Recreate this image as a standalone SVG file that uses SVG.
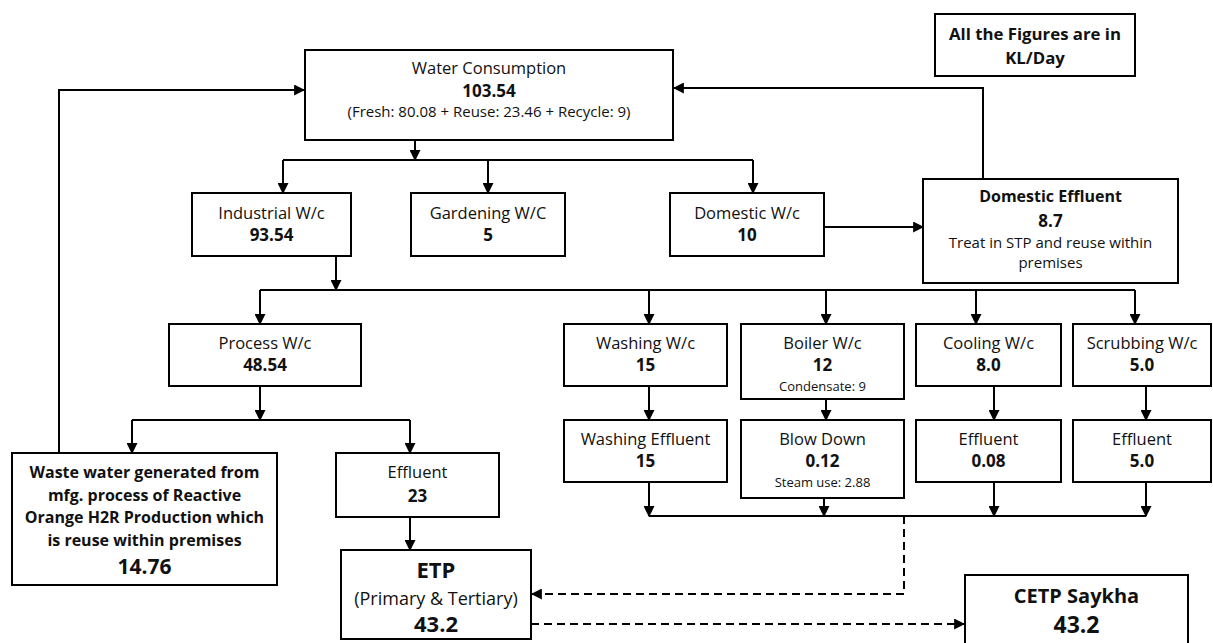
<svg xmlns="http://www.w3.org/2000/svg" width="1213" height="643" viewBox="0 0 1213 643">
<defs>
<style>
.box{fill:#fff;stroke:#000;stroke-width:2}
.t{font-family:"Open Sans","Liberation Sans",sans-serif;font-size:16.5px;fill:#111;text-anchor:middle}
.b{font-weight:bold}
.n{font-weight:bold;font-size:17px}
.m{font-size:15px}
.s{font-size:13px}
.w{font-weight:bold;font-size:16px}
.big{font-size:21px}
.ln{fill:none;stroke:#000;stroke-width:2}
.dash{fill:none;stroke:#000;stroke-width:2;stroke-dasharray:8,5}
</style>
<marker id="ah" viewBox="0 0 10 10" refX="9" refY="5" markerWidth="11" markerHeight="11" markerUnits="userSpaceOnUse" orient="auto">
<path d="M0,0 L10,5 L0,10 z" fill="#000"/>
</marker>
</defs>
<rect width="1213" height="643" fill="#fff"/>

<g id="connectors">
<path class="ln" d="M59,453 V90 H304" marker-end="url(#ah)"/>
<path class="ln" d="M983,179 V88 H674" marker-end="url(#ah)"/>
<path class="ln" d="M415,140 V160" marker-end="url(#ah)"/>
<path class="ln" d="M283,160 H753"/>
<path class="ln" d="M283,160 V193" marker-end="url(#ah)"/>
<path class="ln" d="M488,160 V193" marker-end="url(#ah)"/>
<path class="ln" d="M753,160 V193" marker-end="url(#ah)"/>
<path class="ln" d="M824,227 H923" marker-end="url(#ah)"/>
<path class="ln" d="M336,256 V290" marker-end="url(#ah)"/>
<path class="ln" d="M260,290 H1135"/>
<path class="ln" d="M260,290 V324" marker-end="url(#ah)"/>
<path class="ln" d="M649,290 V324" marker-end="url(#ah)"/>
<path class="ln" d="M826,290 V324" marker-end="url(#ah)"/>
<path class="ln" d="M976,290 V324" marker-end="url(#ah)"/>
<path class="ln" d="M1135,290 V324" marker-end="url(#ah)"/>
<path class="ln" d="M260,386 V420" marker-end="url(#ah)"/>
<path class="ln" d="M132,420 H410"/>
<path class="ln" d="M132,420 V453" marker-end="url(#ah)"/>
<path class="ln" d="M410,420 V453" marker-end="url(#ah)"/>
<path class="ln" d="M649,386 V420" marker-end="url(#ah)"/>
<path class="ln" d="M826,399 V420" marker-end="url(#ah)"/>
<path class="ln" d="M994,386 V420" marker-end="url(#ah)"/>
<path class="ln" d="M1146,386 V420" marker-end="url(#ah)"/>
<path class="ln" d="M649,482 V516" marker-end="url(#ah)"/>
<path class="ln" d="M824,498 V516" marker-end="url(#ah)"/>
<path class="ln" d="M994,482 V516" marker-end="url(#ah)"/>
<path class="ln" d="M1146,482 V516" marker-end="url(#ah)"/>
<path class="ln" d="M649,516 H1146"/>
<path class="ln" d="M410,517 V550" marker-end="url(#ah)"/>
<path class="dash" d="M904,516 V594 H532" marker-end="url(#ah)"/>
<path class="dash" d="M531,624 H964" marker-end="url(#ah)"/>
</g>

<g id="water-consumption">
<rect class="box" x="305" y="50" width="368" height="90"/>
<text class="t" x="489" y="74">Water Consumption</text>
<text class="t n" x="489" y="97">103.54</text>
<text class="t m" x="489" y="117">(Fresh: 80.08 + Reuse: 23.46 + Recycle: 9)</text>
</g>

<g id="units-note">
<rect class="box" x="935" y="14" width="200" height="62"/>
<text class="t w" x="1035" y="40" style="font-size:16.8px">All the Figures are in</text>
<text class="t w" x="1035" y="64" style="font-size:16.8px">KL/Day</text>
</g>

<g id="industrial">
<rect class="box" x="192" y="193" width="159" height="63"/>
<text class="t" x="271.5" y="219">Industrial W/c</text>
<text class="t n" x="271.5" y="241">93.54</text>
</g>

<g id="gardening">
<rect class="box" x="411" y="193" width="154" height="63"/>
<text class="t" x="488" y="219">Gardening W/C</text>
<text class="t n" x="488" y="241">5</text>
</g>

<g id="domestic">
<rect class="box" x="670" y="193" width="154" height="63"/>
<text class="t" x="747" y="219">Domestic W/c</text>
<text class="t n" x="747" y="241">10</text>
</g>

<g id="domestic-effluent">
<rect class="box" x="923" y="179" width="255" height="104"/>
<text class="t w" x="1050.5" y="202">Domestic Effluent</text>
<text class="t n" x="1050.5" y="227">8.7</text>
<text class="t m" x="1050.5" y="248">Treat in STP and reuse within</text>
<text class="t m" x="1050.5" y="268">premises</text>
</g>

<g id="process">
<rect class="box" x="169" y="324" width="192" height="62"/>
<text class="t" x="265" y="349">Process W/c</text>
<text class="t n" x="265" y="371">48.54</text>
</g>

<g id="washing">
<rect class="box" x="564" y="324" width="163" height="62"/>
<text class="t" x="645.5" y="349">Washing W/c</text>
<text class="t n" x="645.5" y="371">15</text>
</g>

<g id="boiler">
<rect class="box" x="741" y="324" width="163" height="75"/>
<text class="t" x="822.5" y="349">Boiler W/c</text>
<text class="t n" x="822.5" y="371">12</text>
<text class="t s" x="822.5" y="391">Condensate: 9</text>
</g>

<g id="cooling">
<rect class="box" x="916" y="324" width="145" height="62"/>
<text class="t" x="988.5" y="349">Cooling W/c</text>
<text class="t n" x="988.5" y="371">8.0</text>
</g>

<g id="scrubbing">
<rect class="box" x="1073" y="324" width="138" height="62"/>
<text class="t" x="1142" y="349">Scrubbing W/c</text>
<text class="t n" x="1142" y="371">5.0</text>
</g>

<g id="washing-effluent">
<rect class="box" x="564" y="420" width="163" height="62"/>
<text class="t" x="645.5" y="445">Washing Effluent</text>
<text class="t n" x="645.5" y="467">15</text>
</g>

<g id="blow-down">
<rect class="box" x="741" y="420" width="163" height="78"/>
<text class="t" x="822.5" y="445">Blow Down</text>
<text class="t n" x="822.5" y="467">0.12</text>
<text class="t s" x="822.5" y="487">Steam use: 2.88</text>
</g>

<g id="cooling-effluent">
<rect class="box" x="916" y="420" width="145" height="62"/>
<text class="t" x="988.5" y="445">Effluent</text>
<text class="t n" x="988.5" y="467">0.08</text>
</g>

<g id="scrubbing-effluent">
<rect class="box" x="1073" y="420" width="138" height="62"/>
<text class="t" x="1142" y="445">Effluent</text>
<text class="t n" x="1142" y="467">5.0</text>
</g>

<g id="waste-water">
<rect class="box" x="12" y="453" width="265" height="132"/>
<text class="t w" x="144.5" y="478">Waste water generated from</text>
<text class="t w" x="144.5" y="501">mfg. process of Reactive</text>
<text class="t w" x="144.5" y="523">Orange H2R Production which</text>
<text class="t w" x="144.5" y="546">is reuse within premises</text>
<text class="t b big" x="144.5" y="574">14.76</text>
</g>

<g id="process-effluent">
<rect class="box" x="336" y="453" width="163" height="64"/>
<text class="t" x="417.5" y="478">Effluent</text>
<text class="t n" x="417.5" y="502">23</text>
</g>

<g id="etp">
<rect class="box" x="341" y="550" width="190" height="89"/>
<text class="t b" x="436" y="578" style="font-size:22px">ETP</text>
<text class="t" x="436" y="605" style="font-size:18px">(Primary &amp; Tertiary)</text>
<text class="t b" x="436" y="632" style="font-size:22px">43.2</text>
</g>

<g id="cetp">
<rect class="box" x="965" y="575" width="223" height="80"/>
<text class="t b" x="1076.5" y="603" style="font-size:20px">CETP Saykha</text>
<text class="t b" x="1076.5" y="633" style="font-size:23px">43.2</text>
</g>
</svg>
